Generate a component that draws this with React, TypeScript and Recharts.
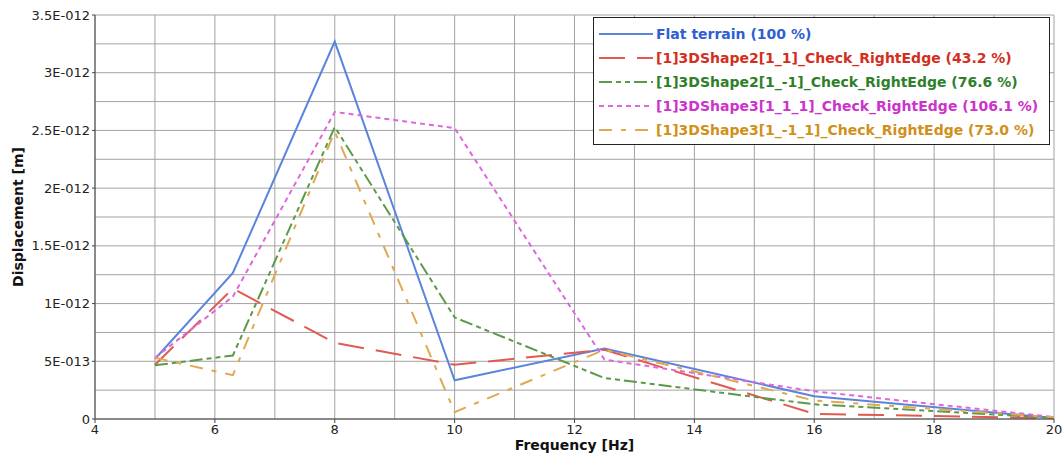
import React from 'react';
import { LineChart, Line, XAxis, YAxis, CartesianGrid, Label } from 'recharts';

// frequencies (Hz) and displacements (m)
const frequencies = [5, 6.3, 8, 10, 12.5, 16, 20];
const flatTerrain = [0.52e-12, 1.265e-12, 3.27e-12, 0.335e-12, 0.61e-12, 0.197e-12, 0.009e-12];
const shape2_1_1 = [0.47e-12, 1.13e-12, 0.66e-12, 0.47e-12, 0.6e-12, 0.045e-12, 0.006e-12];
const shape2_1_m1 = [0.465e-12, 0.55e-12, 2.53e-12, 0.88e-12, 0.355e-12, 0.127e-12, 0.01e-12];
const shape3_1_1_1 = [0.53e-12, 1.06e-12, 2.66e-12, 2.52e-12, 0.515e-12, 0.24e-12, 0.017e-12];
const shape3_1_m1_1 = [0.53e-12, 0.38e-12, 2.49e-12, 0.06e-12, 0.6e-12, 0.16e-12, 0.015e-12];

const xTicks = [4, 6, 8, 10, 12, 14, 16, 18, 20];
const xGrid = [4, 5, 6, 7, 8, 9, 10, 11, 12, 13, 14, 15, 16, 17, 18, 19, 20];
const yTicks = [0, 0.5e-12, 1e-12, 1.5e-12, 2e-12, 2.5e-12, 3e-12, 3.5e-12];
const yGrid = [0, 0.25e-12, 0.5e-12, 0.75e-12, 1e-12, 1.25e-12, 1.5e-12, 1.75e-12, 2e-12, 2.25e-12, 2.5e-12, 2.75e-12, 3e-12, 3.25e-12, 3.5e-12];

const series = [
  { key: 'flat', name: 'Flat terrain (100 %)', values: flatTerrain, stroke: '#5b84dc', text: '#2f5fd0', dash: undefined },
  { key: 's2a', name: '[1]3DShape2[1_1]_Check_RightEdge (43.2 %)', values: shape2_1_1, stroke: '#e05a50', text: '#d22f20', dash: '26 12' },
  { key: 's2b', name: '[1]3DShape2[1_-1]_Check_RightEdge (76.6 %)', values: shape2_1_m1, stroke: '#5a9a48', text: '#2f7f2a', dash: '13 4 5 4 5 4' },
  { key: 's3a', name: '[1]3DShape3[1_1_1]_Check_RightEdge (106.1 %)', values: shape3_1_1_1, stroke: '#df66df', text: '#cc33cc', dash: '5 4' },
  { key: 's3b', name: '[1]3DShape3[1_-1_1]_Check_RightEdge (73.0 %)', values: shape3_1_m1_1, stroke: '#e0a850', text: '#d0901a', dash: '13 9 5 9' },
];

const data = frequencies.map((f, i) => {
  const row: any = { f };
  series.forEach(s => { row[s.key] = s.values[i]; });
  return row;
});

// 3.5E-012 style
const sciFormat = (v: number) => {
  if (v === 0) return '0';
  let exp = Math.floor(Math.log10(v) + 1e-9);
  let mant = Math.round((v / Math.pow(10, exp)) * 1000) / 1000;
  const sign = exp < 0 ? '-' : '+';
  return `${mant}E${sign}${String(Math.abs(exp)).padStart(3, '0')}`;
};

const FONT = '"DejaVu Sans", sans-serif';

const LegendBox = () => (
  <div style={{ position: 'absolute', left: 593, top: 17, width: 457, height: 128, border: '1px solid #222', background: '#fff', padding: '4px 0 0 4px', boxSizing: 'border-box' }}>
    {series.map(s => (
      <div key={s.key} style={{ display: 'flex', alignItems: 'center', height: 24 }}>
        <svg width={56} height={10} style={{ marginRight: 2 }}>
          <line x1={1} y1={5} x2={55} y2={5} stroke={s.stroke} strokeWidth={2} strokeDasharray={s.dash} />
        </svg>
        <span style={{ color: s.text, fontFamily: FONT, fontWeight: 'bold', fontSize: 14, whiteSpace: 'nowrap' }}>{s.name}</span>
      </div>
    ))}
  </div>
);

export default function App() {
  return (
    <div style={{ position: 'absolute', left: 0, top: 0, width: 1064, height: 463, background: '#fff' }}>
      <LineChart width={1064} height={463} data={data} margin={{ top: 15, right: 10, left: 0, bottom: 0 }}>
        <CartesianGrid stroke="#a3a3a3" strokeWidth={1} verticalValues={xGrid} horizontalValues={yGrid} />
        <XAxis
          dataKey="f"
          type="number"
          domain={[4, 20]}
          ticks={xTicks}
          allowDataOverflow
          height={44}
          tickSize={4}
          tickMargin={2}
          stroke="#444"
          tick={{ fill: '#222', fontSize: 13, fontFamily: FONT }}
        >
          <Label value="Frequency [Hz]" position="insideBottom" offset={13} style={{ fontFamily: FONT, fontWeight: 'bold', fontSize: 14, fill: '#111' }} />
        </XAxis>
        <YAxis
          type="number"
          domain={[0, 3.5e-12]}
          ticks={yTicks}
          allowDataOverflow
          width={95}
          tickSize={3}
          tickMargin={2}
          stroke="#444"
          tickFormatter={sciFormat}
          tick={{ fill: '#222', fontSize: 13, fontFamily: FONT }}
        >
          <Label value="Displacement [m]" angle={-90} position="insideLeft" offset={18} style={{ textAnchor: 'middle', fontFamily: FONT, fontWeight: 'bold', fontSize: 14, fill: '#111' }} />
        </YAxis>
        {series.map(s => (
          <Line
            key={s.key}
            dataKey={s.key}
            name={s.name}
            stroke={s.stroke}
            strokeWidth={2}
            strokeDasharray={s.dash}
            dot={false}
            activeDot={false}
            isAnimationActive={false}
            type="linear"
          />
        ))}
      </LineChart>
      <LegendBox />
    </div>
  );
}
